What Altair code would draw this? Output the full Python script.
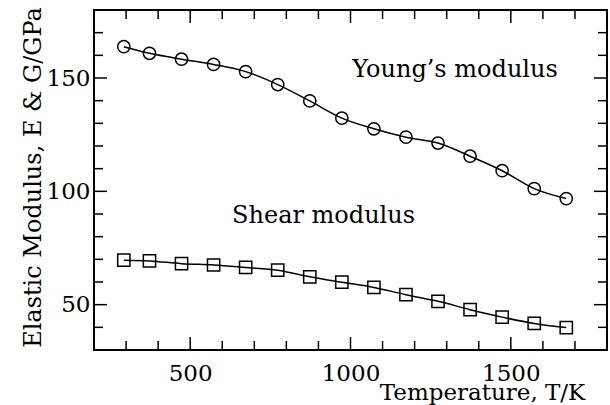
import altair as alt
import pandas as pd

# ---- data ----
temps = [293, 373, 473, 573, 673, 773, 873, 973, 1073, 1173, 1273, 1373, 1473, 1573, 1673]
young = [163.8, 160.9, 158.3, 156.0, 152.8, 147.1, 139.9, 132.3, 127.6, 123.9, 121.3, 115.5, 109.1, 101.2, 96.8]
shear = [69.6, 69.3, 68.1, 67.5, 66.4, 65.2, 62.3, 59.9, 57.6, 54.4, 51.5, 47.8, 44.5, 41.7, 39.9]

x_major = [500, 1000, 1500]
x_minor = [300, 400, 600, 700, 800, 900, 1100, 1200, 1300, 1400, 1600, 1700]
y_major = [50, 100, 150]
y_minor = [40, 60, 70, 80, 90, 110, 120, 130, 140, 160, 170]

ann_text = ["Young\u2019s modulus", "Shear modulus"]
ann_x = [1326, 916]
ann_y = [150.6, 85.9]

FONT = "DejaVu Serif"
W, H = 513, 340
MAJ, MIN = 13, 9

df_y = pd.DataFrame({"T": temps, "v": young})
df_g = pd.DataFrame({"T": temps, "v": shear})
df_ann = pd.DataFrame({"t": ann_text, "x": ann_x, "y": ann_y})

xs = alt.Scale(domain=[200, 1800], nice=False, zero=False)
ys = alt.Scale(domain=[30, 180], nice=False, zero=False)

x_enc = alt.X(
    "T:Q", scale=xs,
    axis=alt.Axis(
        values=x_major, ticks=False, tickSize=0, domain=False, grid=False,
        labelFont=FONT, labelFontSize=23, labelColor="black", labelPadding=30,
        labelBaseline="alphabetic", format="d",
        title="Temperature, T/K", titleFont=FONT, titleFontSize=23,
        titleFontWeight="normal", titleColor="black",
        titleX=388, titleY=49, titleAlign="center", titleBaseline="alphabetic",
    ),
)
y_enc = alt.Y(
    "v:Q", scale=ys,
    axis=alt.Axis(
        values=y_major, ticks=False, tickSize=0, domain=False, grid=False,
        labelFont=FONT, labelFontSize=23, labelColor="black", labelPadding=4,
        labelBaseline="middle", format="d",
        title="Elastic Modulus, E & G/GPa", titleFont=FONT, titleFontSize=24,
        titleFontWeight="normal", titleColor="black",
        titleX=-54, titleY=167, titleAngle=270, titleAlign="center",
        titleBaseline="alphabetic",
    ),
)


def series(df, shape):
    line = alt.Chart(df).mark_line(
        interpolate="monotone", color="black", strokeWidth=1.5
    ).encode(x=x_enc, y=y_enc)
    pts = alt.Chart(df).mark_point(
        shape=shape, size=150, filled=False, color="black",
        strokeWidth=1.5, opacity=1
    ).encode(x=alt.X("T:Q", scale=xs), y=alt.Y("v:Q", scale=ys))
    return line + pts


def xticks(vals, length):
    d = pd.DataFrame({"T": vals})
    top = alt.Chart(d).mark_rule(color="black", strokeWidth=1.5).encode(
        x=alt.X("T:Q", scale=xs), y=alt.value(0), y2=alt.value(length))
    bot = alt.Chart(d).mark_rule(color="black", strokeWidth=1.5).encode(
        x=alt.X("T:Q", scale=xs), y=alt.value(H), y2=alt.value(H - length))
    return top + bot


def yticks(vals, length):
    d = pd.DataFrame({"v": vals})
    left = alt.Chart(d).mark_rule(color="black", strokeWidth=1.5).encode(
        y=alt.Y("v:Q", scale=ys), x=alt.value(0), x2=alt.value(length))
    right = alt.Chart(d).mark_rule(color="black", strokeWidth=1.5).encode(
        y=alt.Y("v:Q", scale=ys), x=alt.value(W), x2=alt.value(W - length))
    return left + right


ann = alt.Chart(df_ann).mark_text(
    font=FONT, fontSize=24, color="black", align="center", baseline="alphabetic"
).encode(x=alt.X("x:Q", scale=xs), y=alt.Y("y:Q", scale=ys), text="t:N")

chart = alt.layer(
    series(df_y, "circle"),
    series(df_g, "square"),
    xticks(x_major, MAJ), xticks(x_minor, MIN),
    yticks(y_major, MAJ), yticks(y_minor, MIN),
    ann,
).properties(
    width=W, height=H,
    autosize=alt.AutoSizeParams(type="none"),
    padding={"left": 94, "top": 10, "right": 3, "bottom": 55},
    background="white",
).configure_view(stroke="black", strokeWidth=2)

chart.save("out.html", embed_options={"renderer": "svg", "actions": False})
